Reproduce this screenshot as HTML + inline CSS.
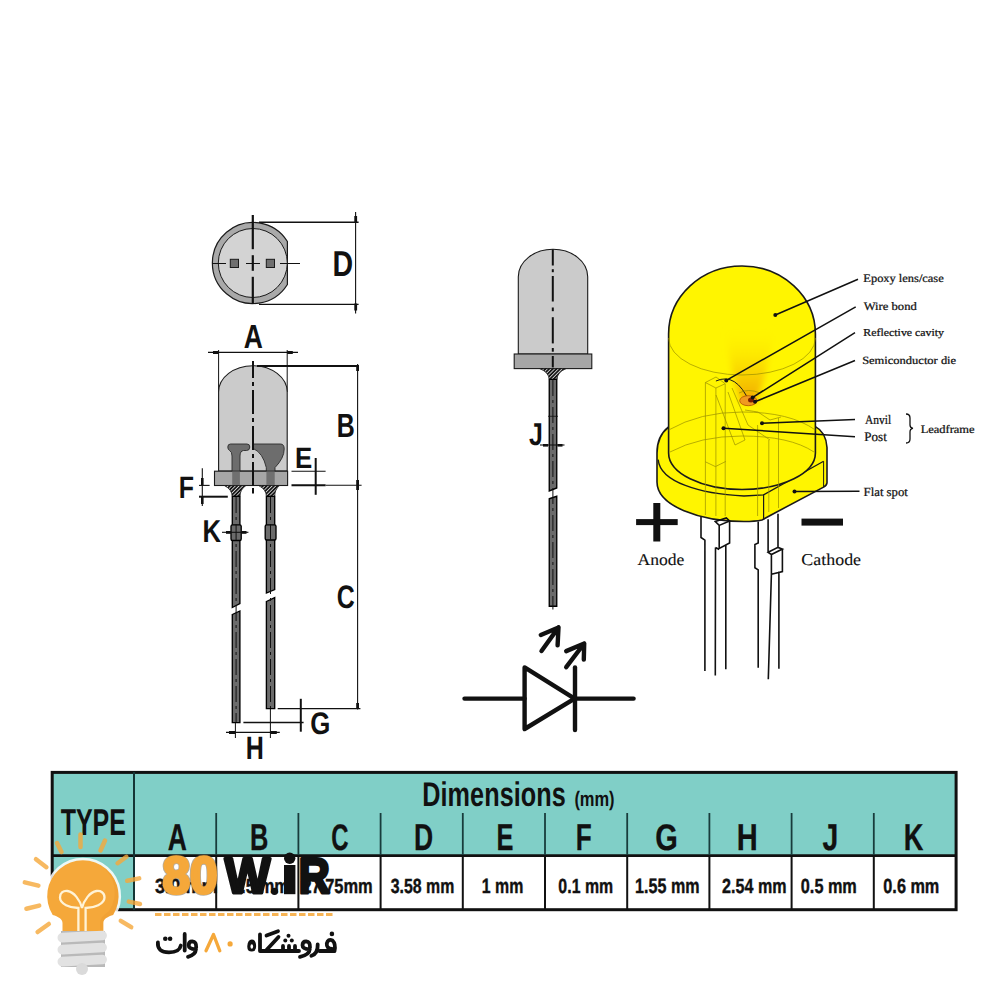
<!DOCTYPE html>
<html><head><meta charset="utf-8"><style>
html,body{margin:0;padding:0;background:#fff;width:1000px;height:1000px;overflow:hidden}
svg{display:block;text-rendering:geometricPrecision}
</style></head><body>
<svg width="1000" height="1000" viewBox="0 0 1000 1000">
<defs>
<pattern id="hatch" width="2.6" height="2.6" patternUnits="userSpaceOnUse" patternTransform="rotate(45)">
<rect width="2.6" height="2.6" fill="#151515"/><rect width="0.75" height="2.6" fill="#f0f0f0"/>
</pattern>
<filter id="blur" x="-50%" y="-50%" width="200%" height="200%"><feGaussianBlur stdDeviation="3"/></filter>
<linearGradient id="glow" x1="0" y1="1" x2="0" y2="0">
<stop offset="0" stop-color="#f0a000" stop-opacity="0.9"/>
<stop offset="0.25" stop-color="#f3b000" stop-opacity="0.7"/>
<stop offset="0.6" stop-color="#f8c800" stop-opacity="0.3"/>
<stop offset="1" stop-color="#fff000" stop-opacity="0"/>
</linearGradient>
</defs>
<rect width="1000" height="1000" fill="#fff"/>

<path d="M287.4 241.5 A40.6 40.6 0 1 0 287.4 284.5 Z" fill="#a9a9a9" stroke="#1a1a1a" stroke-width="1.2"/>
<circle cx="252.8" cy="263" r="34.5" fill="#d3d3d3" stroke="#1a1a1a" stroke-width="1"/>
<rect x="230.3" y="259.3" width="8.2" height="8.2" fill="#6f6f6f" stroke="#1a1a1a" stroke-width="1"/>
<rect x="266.3" y="259.3" width="8.2" height="8.2" fill="#6f6f6f" stroke="#1a1a1a" stroke-width="1"/>
<line x1="252.8" y1="215" x2="252.8" y2="249.2" stroke="#111" stroke-width="2.2" />
<line x1="252.8" y1="255.2" x2="252.8" y2="270.8" stroke="#111" stroke-width="2.2" />
<line x1="252.8" y1="276.8" x2="252.8" y2="304" stroke="#111" stroke-width="2.2" />
<line x1="212" y1="263.5" x2="226" y2="263.5" stroke="#111" stroke-width="1" />
<line x1="246" y1="263.5" x2="260" y2="263.5" stroke="#111" stroke-width="1" />
<line x1="280" y1="263.5" x2="300" y2="263.5" stroke="#111" stroke-width="1" />
<line x1="259" y1="222.2" x2="358.6" y2="222.2" stroke="#111" stroke-width="1.4" />
<line x1="259" y1="304.4" x2="358.6" y2="304.4" stroke="#111" stroke-width="1.4" />
<line x1="355.6" y1="212" x2="355.6" y2="313.4" stroke="#111" stroke-width="1.1" />
<rect x="354.3" y="216" width="2.8" height="7" fill="#111" />
<rect x="354.3" y="303.5" width="2.8" height="7" fill="#111" />
<text transform="translate(332.60,275.90) scale(0.07904,0.10000)" font-family="Liberation Sans" font-weight="bold" font-size="360.87" fill="#111" >D</text>
<line x1="208" y1="352.4" x2="298" y2="352.4" stroke="#111" stroke-width="1.2" />
<line x1="218.6" y1="350" x2="218.6" y2="392" stroke="#111" stroke-width="1" />
<line x1="287.2" y1="350" x2="287.2" y2="392" stroke="#111" stroke-width="1" />
<rect x="213" y="351" width="5.6" height="3" fill="#111" />
<rect x="287.2" y="351" width="5.6" height="3" fill="#111" />
<text transform="translate(243.81,347.90) scale(0.07875,0.10000)" font-family="Liberation Sans" font-weight="bold" font-size="334.78" fill="#111" >A</text>
<path d="M218.6 471 V392 A34.3 26.3 0 0 1 287.2 392 V471 Z" fill="#cbcbcb" stroke="#1a1a1a" stroke-width="1.1"/>
<path d="M230.5 444 H247 Q249.8 444 249.8 447 Q249.8 450.5 246.5 450.5 H243.5 Q240 451 240 456 V485.5 H232 V456 Q232 451.5 229.5 450.5 Q227.8 449.5 227.8 447 Q227.8 444 230.5 444 Z" fill="#6d6d6d" stroke="#2a2a2a" stroke-width="0.9"/>
<path d="M253.3 444 H280.5 Q284.2 444 284.2 449 Q284.2 458 275 467.6 V485.5 H266.3 V467.6 Q263 453 253.3 448.5 Z" fill="#6d6d6d" stroke="#2a2a2a" stroke-width="0.9"/>
<rect x="214.5" y="471.2" width="73.1" height="14.3" fill="#a6a6a6" stroke="#1a1a1a" stroke-width="1.1"/>
<rect x="232.2" y="471.5" width="7.7" height="14" fill="#707070" />
<rect x="266.4" y="471.5" width="8.3" height="14" fill="#707070" />
<line x1="253" y1="361" x2="253" y2="378" stroke="#111" stroke-width="2" />
<line x1="253" y1="382" x2="253" y2="386" stroke="#111" stroke-width="2" />
<line x1="253" y1="390" x2="253" y2="414" stroke="#111" stroke-width="2" />
<line x1="253" y1="418" x2="253" y2="422" stroke="#111" stroke-width="2" />
<line x1="253" y1="426" x2="253" y2="450" stroke="#111" stroke-width="2" />
<line x1="253" y1="454" x2="253" y2="458" stroke="#111" stroke-width="2" />
<line x1="253" y1="462" x2="253" y2="486" stroke="#111" stroke-width="2" />
<line x1="253" y1="488" x2="253" y2="493.5" stroke="#111" stroke-width="2" />
<path d="M224.3 485.5 H246 Q240 489.5 240 496.3 H232.2 Q232 489.5 224.3 485.5 Z" fill="url(#hatch)" stroke="#1a1a1a" stroke-width="0.8"/>
<path d="M258.6 485.5 H279.6 Q274.7 489.5 274.7 496.3 H266.4 Q266.3 489.5 258.6 485.5 Z" fill="url(#hatch)" stroke="#1a1a1a" stroke-width="0.8"/>
<path d="M232.3 496.3 H239.9 V603.5 L232.3 607.5 Z" fill="#6b6b6b" stroke="#000" stroke-width="1.35"/>
<path d="M232.3 614.5 L239.9 611 V722.6 H232.3 Z" fill="#6b6b6b" stroke="#000" stroke-width="1.35"/>
<path d="M266.4 496.3 H274.7 V589.5 L266.4 593 Z" fill="#6b6b6b" stroke="#000" stroke-width="1.35"/>
<path d="M266.4 601.5 L274.7 597.6 V708.6 H266.4 Z" fill="#6b6b6b" stroke="#000" stroke-width="1.35"/>
<rect x="231" y="524.8" width="10.2" height="15.7" rx="1.5" fill="#6b6b6b" stroke="#000" stroke-width="1.35"/>
<rect x="265.2" y="524.8" width="10.8" height="15.2" rx="1.5" fill="#6b6b6b" stroke="#000" stroke-width="1.35"/>
<line x1="236.1" y1="497" x2="236.1" y2="722" stroke="#111" stroke-width="1" stroke-dasharray="16 4 3 4"/>
<line x1="270.5" y1="497" x2="270.5" y2="708" stroke="#111" stroke-width="1" stroke-dasharray="16 4 3 4"/>
<line x1="257" y1="366" x2="358.6" y2="366" stroke="#111" stroke-width="2.2" />
<line x1="357.6" y1="364" x2="357.6" y2="709.5" stroke="#111" stroke-width="1.1" />
<line x1="325.6" y1="485.2" x2="361.6" y2="485.2" stroke="#111" stroke-width="1.1" />
<rect x="356.2" y="365" width="2.8" height="6" fill="#111" />
<rect x="356.2" y="480" width="2.8" height="10" fill="#111" />
<rect x="356.2" y="703" width="2.8" height="6" fill="#111" />
<text transform="translate(336.66,437.20) scale(0.07411,0.10000)" font-family="Liberation Sans" font-weight="bold" font-size="336.23" fill="#111" >B</text>
<text transform="translate(336.80,608.10) scale(0.07618,0.10000)" font-family="Liberation Sans" font-weight="bold" font-size="327.14" fill="#111" >C</text>
<line x1="291.5" y1="471.3" x2="325.6" y2="471.3" stroke="#111" stroke-width="1.1" />
<line x1="291.5" y1="485.2" x2="325.6" y2="485.2" stroke="#111" stroke-width="2" />
<line x1="315.7" y1="458" x2="315.7" y2="494.8" stroke="#111" stroke-width="2" />
<text transform="translate(294.89,467.60) scale(0.08801,0.10000)" font-family="Liberation Sans" font-weight="bold" font-size="294.20" fill="#111" >E</text>
<line x1="202.3" y1="468.3" x2="202.3" y2="506" stroke="#111" stroke-width="1.1" />
<line x1="199" y1="485.4" x2="209.6" y2="485.4" stroke="#111" stroke-width="1.1" />
<line x1="199" y1="496.7" x2="227.8" y2="496.7" stroke="#111" stroke-width="2" />
<rect x="201" y="478" width="2.6" height="7" fill="#111" />
<rect x="201" y="497" width="2.6" height="7" fill="#111" />
<text transform="translate(178.65,497.80) scale(0.08023,0.10000)" font-family="Liberation Sans" font-weight="bold" font-size="311.59" fill="#111" >F</text>
<line x1="222" y1="532.3" x2="248.4" y2="532.3" stroke="#111" stroke-width="1.1" />
<rect x="226" y="531" width="5" height="2.8" fill="#111" />
<rect x="241.5" y="531" width="5" height="2.8" fill="#111" />
<text transform="translate(202.60,541.60) scale(0.08123,0.10000)" font-family="Liberation Sans" font-weight="bold" font-size="317.39" fill="#111" >K</text>
<line x1="277.7" y1="708.6" x2="360.4" y2="708.6" stroke="#111" stroke-width="1.1" />
<line x1="243.4" y1="722.6" x2="303.6" y2="722.6" stroke="#111" stroke-width="1.5" />
<line x1="300.8" y1="698.8" x2="300.8" y2="731.7" stroke="#111" stroke-width="2" />
<text transform="translate(310.27,733.80) scale(0.08264,0.10000)" font-family="Liberation Sans" font-weight="bold" font-size="311.43" fill="#111" >G</text>
<line x1="226" y1="732.4" x2="279.8" y2="732.4" stroke="#111" stroke-width="1.4" />
<line x1="235.4" y1="723" x2="235.4" y2="738" stroke="#111" stroke-width="1" />
<line x1="270.4" y1="709" x2="270.4" y2="738" stroke="#111" stroke-width="1" />
<rect x="229" y="731" width="6.4" height="3" fill="#111" />
<rect x="270.4" y="731" width="6.4" height="3" fill="#111" />
<text transform="translate(245.86,759.00) scale(0.07675,0.10000)" font-family="Liberation Sans" font-weight="bold" font-size="324.64" fill="#111" >H</text>
<path d="M518.3 354 V276.7 A34.7 27.4 0 0 1 587.7 276.7 V354 Z" fill="#cbcbcb" stroke="#1a1a1a" stroke-width="1.1"/>
<rect x="514.2" y="354" width="77.6" height="14.6" fill="#a6a6a6" stroke="#1a1a1a" stroke-width="1.1"/>
<line x1="552.8" y1="249.3" x2="552.8" y2="265.5" stroke="#111" stroke-width="2" />
<line x1="552.8" y1="269.2" x2="552.8" y2="272.2" stroke="#111" stroke-width="2" />
<line x1="552.8" y1="276" x2="552.8" y2="301.5" stroke="#111" stroke-width="2" />
<line x1="552.8" y1="307.5" x2="552.8" y2="311.2" stroke="#111" stroke-width="2" />
<line x1="552.8" y1="317.2" x2="552.8" y2="343.4" stroke="#111" stroke-width="2" />
<line x1="552.8" y1="348" x2="552.8" y2="351.7" stroke="#111" stroke-width="2" />
<line x1="552.8" y1="356" x2="552.8" y2="367.4" stroke="#111" stroke-width="2" />
<path d="M539.7 368.6 H566 Q557 372.5 557 379.4 H549.2 Q549 372.5 539.7 368.6 Z" fill="url(#hatch)" stroke="#1a1a1a" stroke-width="0.8"/>
<path d="M549.25 379.4 H556.75 V488 L549.25 491 Z" fill="#6b6b6b" stroke="#000" stroke-width="1.35"/>
<path d="M549.25 498.75 L556.75 496.25 V606.25 H549.25 Z" fill="#6b6b6b" stroke="#000" stroke-width="1.35"/>
<line x1="552.9" y1="380" x2="552.9" y2="609.5" stroke="#111" stroke-width="1" stroke-dasharray="16 4 3 4"/>
<line x1="540" y1="445" x2="564.5" y2="445" stroke="#111" stroke-width="1.1" />
<rect x="543" y="444" width="5" height="2.6" fill="#111" />
<rect x="557.5" y="444" width="5" height="2.6" fill="#111" />
<line x1="548" y1="416.3" x2="558" y2="416.3" stroke="#111" stroke-width="0.8" />
<text transform="translate(529.00,444.50) scale(0.07841,0.10000)" font-family="Liberation Sans" font-weight="bold" font-size="318.84" fill="#111" >J</text>
<path d="M464.5 698.6 H524.6 M574.8 698.6 H633.6" stroke="#111" stroke-width="4.4" fill="none" stroke-linecap="round" stroke-linejoin="round"/>
<path d="M524.6 667.4 L574.6 698.6 L524.6 729 Z" stroke="#111" stroke-width="4.4" fill="none" stroke-linecap="round" stroke-linejoin="round"/>
<path d="M575 667.4 V730" stroke="#111" stroke-width="4.4" fill="none" stroke-linecap="round" stroke-linejoin="round"/>
<path d="M541.5 651 L558.5 627.4 M540.8 635 L558.5 627.4 L557.6 645.4" stroke="#111" stroke-width="4.4" fill="none" stroke-linecap="round" stroke-linejoin="round"/>
<path d="M566.2 667.2 L584.2 643.5 M566.2 651.1 L584.2 643.5 L583.8 659.6" stroke="#111" stroke-width="4.4" fill="none" stroke-linecap="round" stroke-linejoin="round"/>
<path d="M668.6 427 Q657 436 657 453 V482 C657 506 700 521.5 744 521.5 Q755 521.5 762 520 L769.7 515.7 L823.6 487.1 Q827 485 827 482.7 V447.5 Q826 432 815.4 426.6 Z" fill="#fff500" stroke="#1a1a1a" stroke-width="1.6"/>
<path d="M658.2 459.6 C660 482 700 494 744 496 L763.6 494.8 L823.6 461.3" fill="none" stroke="#1a1a1a" stroke-width="1.3"/>
<line x1="763.6" y1="494.8" x2="763.6" y2="520" stroke="#1a1a1a" stroke-width="1.2" />
<line x1="823.6" y1="461.3" x2="823.6" y2="487" stroke="#1a1a1a" stroke-width="1" />
<path d="M668.6 453 V334 A73.4 68 0 0 1 815.4 334 V453 A73.4 36.5 0 0 1 668.6 453 Z" fill="#fff500" stroke="#1a1a1a" stroke-width="1.6"/>
<path d="M741 402 Q730 372 726 330 Q750 322 774 330 Q768 372 756 402 Z" fill="url(#glow)" filter="url(#blur)"/>
<path d="M668.6 338 A73.4 37 0 0 0 815.4 338" stroke="#9a8f00" stroke-width="0.7" fill="none"/>
<path d="M668.6 430 Q700 412 742 412 Q790 412 815.4 430" stroke="#9a8f00" stroke-width="0.7" fill="none"/>
<path d="M670 452 Q700 436 742 436 Q790 436 814 452" stroke="#9a8f00" stroke-width="0.7" fill="none"/>
<line x1="705.4" y1="382.5" x2="705.4" y2="515" stroke="#9a8f00" stroke-width="0.7" />
<line x1="715.9" y1="388" x2="715.9" y2="516" stroke="#9a8f00" stroke-width="0.7" />
<line x1="725.2" y1="384" x2="725.2" y2="516" stroke="#9a8f00" stroke-width="0.7" />
<path d="M705.4 382.5 L716 377 L725.2 383.7 L715.9 388 Z M705.4 461.8 L715.4 466.6 L725.9 461.4" stroke="#9a8f00" stroke-width="0.7" fill="none"/>
<path d="M716 395 L735 445 L745 440 L728 392 M732 388 L748 425 L770 440 M745 410 L758 412 L770 420 L781 417 M757.6 425 V516 M768.8 440 V512 M778.5 418 V508" stroke="#9a8f00" stroke-width="0.7" fill="none"/>
<path d="M715.9 381 Q736 372 749.4 401.8" fill="none" stroke="#1a1a1a" stroke-width="1"/>
<ellipse cx="748.3" cy="400.7" rx="8.6" ry="5" fill="#f09a20" stroke="#b05000" stroke-width="0.8"/>
<path d="M739 393 Q748 388 760 393" fill="none" stroke="#9a8f00" stroke-width="0.7"/>
<ellipse cx="751" cy="400" rx="3" ry="2.5" fill="#7a2000"/>
<path d="M775.3 315 L858 279.2 M726.3 380.4 L855.7 306.8 M752.7 397.4 L855 332.7 M755 401.8 L855 360.5 M762 423.3 L855 419.5 M723.5 428.2 L855 436.7 M794.5 491.5 L859.5 491.3" stroke="#111" stroke-width="1.5" fill="none"/>
<circle cx="775.3" cy="315" r="2" fill="#111"/>
<circle cx="726.3" cy="380.4" r="2" fill="#111"/>
<circle cx="752.7" cy="397.4" r="2" fill="#111"/>
<circle cx="755" cy="401.8" r="2" fill="#111"/>
<circle cx="762" cy="423.3" r="2" fill="#111"/>
<circle cx="723.5" cy="428.2" r="2" fill="#111"/>
<circle cx="794.5" cy="491.5" r="2" fill="#111"/>
<text transform="translate(863.33,282.20) scale(0.10714,0.10000)" font-family="Liberation Serif" font-weight="normal" font-size="115.94" fill="#111" stroke="#111" stroke-width="2.5">Epoxy lens/case</text>
<text transform="translate(863.70,310.20) scale(0.11006,0.10000)" font-family="Liberation Serif" font-weight="normal" font-size="114.49" fill="#111" stroke="#111" stroke-width="2.5">Wire bond</text>
<text transform="translate(863.34,335.70) scale(0.11073,0.10000)" font-family="Liberation Serif" font-weight="normal" font-size="107.14" fill="#111" stroke="#111" stroke-width="2.5">Reflective cavity</text>
<text transform="translate(862.13,363.70) scale(0.11195,0.10000)" font-family="Liberation Serif" font-weight="normal" font-size="111.59" fill="#111" stroke="#111" stroke-width="2.5">Semiconductor die</text>
<text transform="translate(865.09,424.00) scale(0.08791,0.10000)" font-family="Liberation Serif" font-weight="normal" font-size="130.43" fill="#111" stroke="#111" stroke-width="2.5">Anvil</text>
<text transform="translate(864.31,440.80) scale(0.09884,0.10000)" font-family="Liberation Serif" font-weight="normal" font-size="132.31" fill="#111" stroke="#111" stroke-width="2.5">Post</text>
<text transform="translate(920.63,432.70) scale(0.10891,0.10000)" font-family="Liberation Serif" font-weight="normal" font-size="114.29" fill="#111" stroke="#111" stroke-width="2.5">Leadframe</text>
<text transform="translate(863.62,496.00) scale(0.10216,0.10000)" font-family="Liberation Serif" font-weight="normal" font-size="124.64" fill="#111" stroke="#111" stroke-width="2.5">Flat spot</text>
<path d="M906 414 Q910 414 910 418 V425 Q910 428 913 428.3 Q910 428.6 910 432 V439 Q910 443 906 443" fill="none" stroke="#111" stroke-width="1.3"/>
<rect x="636.1" y="519.1" width="41.6" height="6" fill="#111" />
<rect x="653.3" y="503" width="7" height="38.5" fill="#111" />
<rect x="801.5" y="518.6" width="41.5" height="7" fill="#111" />
<text transform="translate(637.52,564.60) scale(0.10627,0.10000)" font-family="Liberation Serif" font-weight="normal" font-size="165.22" fill="#111" stroke="#111" stroke-width="1">Anode</text>
<text transform="translate(801.28,564.60) scale(0.10861,0.10000)" font-family="Liberation Serif" font-weight="normal" font-size="165.22" fill="#111" stroke="#111" stroke-width="1">Cathode</text>
<path d="M701 517 V537.5 L704.9 540.2 V671 M715.5 547.5 L715.3 675.4 M725.8 545.5 V669.3 M715.3 521.5 L726.3 518 L729.6 521 L719.2 525.4 Z M719.2 525.4 V548.5 L729.6 543 V521 M715.5 547.5 L719.2 549.5" stroke="#111" stroke-width="1.6" fill="none"/>
<path d="M758.2 521.5 V543 L754.9 544.5 V567.7 L758.2 569.9 V667.7 M768.1 519.3 V552.3 M778 513.8 V547.4 M768.1 552.3 L778 547.4 L782.4 549 L771.4 554.5 Z M771.4 554.5 V574.3 L782.4 571.6 V549 M771.4 574.3 L768.3 679.2 M778.9 571.6 V668.8" stroke="#111" stroke-width="1.6" fill="none"/>
<rect x="52" y="772" width="904" height="138" fill="#fff" />
<rect x="52" y="772" width="904" height="83" fill="#80cfc7" />
<rect x="52" y="855" width="82" height="54" fill="#80cfc7" />
<rect x="52.2" y="772.4" width="903.9" height="137.3" fill="none" stroke="#111" stroke-width="3"/>
<line x1="52" y1="855.6" x2="956" y2="855.6" stroke="#111" stroke-width="2.8" />
<line x1="134" y1="772" x2="134" y2="910" stroke="#153535" stroke-width="2" />
<line x1="216.2" y1="813" x2="216.2" y2="855" stroke="#183c3c" stroke-width="1.8" />
<line x1="216.2" y1="855" x2="216.2" y2="910" stroke="#111" stroke-width="2" />
<line x1="298.4" y1="813" x2="298.4" y2="855" stroke="#183c3c" stroke-width="1.8" />
<line x1="298.4" y1="855" x2="298.4" y2="910" stroke="#111" stroke-width="2" />
<line x1="380.6" y1="813" x2="380.6" y2="855" stroke="#183c3c" stroke-width="1.8" />
<line x1="380.6" y1="855" x2="380.6" y2="910" stroke="#111" stroke-width="2" />
<line x1="462.8" y1="813" x2="462.8" y2="855" stroke="#183c3c" stroke-width="1.8" />
<line x1="462.8" y1="855" x2="462.8" y2="910" stroke="#111" stroke-width="2" />
<line x1="545.0" y1="813" x2="545.0" y2="855" stroke="#183c3c" stroke-width="1.8" />
<line x1="545.0" y1="855" x2="545.0" y2="910" stroke="#111" stroke-width="2" />
<line x1="627.2" y1="813" x2="627.2" y2="855" stroke="#183c3c" stroke-width="1.8" />
<line x1="627.2" y1="855" x2="627.2" y2="910" stroke="#111" stroke-width="2" />
<line x1="709.4" y1="813" x2="709.4" y2="855" stroke="#183c3c" stroke-width="1.8" />
<line x1="709.4" y1="855" x2="709.4" y2="910" stroke="#111" stroke-width="2" />
<line x1="791.6" y1="813" x2="791.6" y2="855" stroke="#183c3c" stroke-width="1.8" />
<line x1="791.6" y1="855" x2="791.6" y2="910" stroke="#111" stroke-width="2" />
<line x1="873.8000000000001" y1="813" x2="873.8000000000001" y2="855" stroke="#183c3c" stroke-width="1.8" />
<line x1="873.8000000000001" y1="855" x2="873.8000000000001" y2="910" stroke="#111" stroke-width="2" />
<text transform="translate(60.75,835.00) scale(0.06609,0.10000)" font-family="Liberation Sans" font-weight="bold" font-size="376.81" fill="#111" >TYPE</text>
<text transform="translate(422.23,806.00) scale(0.07354,0.10000)" font-family="Liberation Sans" font-weight="bold" font-size="344.44" fill="#111" >Dimensions</text>
<text transform="translate(574.38,806.00) scale(0.07773,0.10000)" font-family="Liberation Sans" font-weight="bold" font-size="211.11" fill="#111" >(mm)</text>
<text transform="translate(167.71,850.10) scale(0.06997,0.10000)" font-family="Liberation Sans" font-weight="bold" font-size="376.81" fill="#111" stroke="#111" stroke-width="3">A</text>
<text transform="translate(249.91,850.10) scale(0.06787,0.10000)" font-family="Liberation Sans" font-weight="bold" font-size="376.81" fill="#111" stroke="#111" stroke-width="3">B</text>
<text transform="translate(331.34,850.10) scale(0.06462,0.10000)" font-family="Liberation Sans" font-weight="bold" font-size="371.43" fill="#111" stroke="#111" stroke-width="3">C</text>
<text transform="translate(414.05,850.10) scale(0.07004,0.10000)" font-family="Liberation Sans" font-weight="bold" font-size="376.81" fill="#111" stroke="#111" stroke-width="3">D</text>
<text transform="translate(496.51,850.10) scale(0.06777,0.10000)" font-family="Liberation Sans" font-weight="bold" font-size="376.81" fill="#111" stroke="#111" stroke-width="3">E</text>
<text transform="translate(575.78,850.10) scale(0.06900,0.10000)" font-family="Liberation Sans" font-weight="bold" font-size="376.81" fill="#111" stroke="#111" stroke-width="3">F</text>
<text transform="translate(655.24,850.10) scale(0.07839,0.10000)" font-family="Liberation Sans" font-weight="bold" font-size="371.43" fill="#111" stroke="#111" stroke-width="3">G</text>
<text transform="translate(736.87,850.10) scale(0.07692,0.10000)" font-family="Liberation Sans" font-weight="bold" font-size="376.81" fill="#111" stroke="#111" stroke-width="3">H</text>
<text transform="translate(822.43,850.10) scale(0.07510,0.10000)" font-family="Liberation Sans" font-weight="bold" font-size="376.81" fill="#111" stroke="#111" stroke-width="3">J</text>
<text transform="translate(903.70,850.10) scale(0.07215,0.10000)" font-family="Liberation Sans" font-weight="bold" font-size="376.81" fill="#111" stroke="#111" stroke-width="3">K</text>
<text transform="translate(154.93,892.70) scale(0.08874,0.10000)" font-family="Liberation Sans" font-weight="bold" font-size="205.71" fill="#111" stroke="#111" stroke-width="4">3.0 mm</text>
<text transform="translate(231.90,892.70) scale(0.08063,0.10000)" font-family="Liberation Sans" font-weight="bold" font-size="205.71" fill="#111" stroke="#111" stroke-width="4">8.5 mm</text>
<text transform="translate(302.41,892.70) scale(0.07979,0.10000)" font-family="Liberation Sans" font-weight="bold" font-size="205.71" fill="#111" stroke="#111" stroke-width="4">27.75mm</text>
<text transform="translate(390.68,892.70) scale(0.07736,0.10000)" font-family="Liberation Sans" font-weight="bold" font-size="205.71" fill="#111" stroke="#111" stroke-width="4">3.58 mm</text>
<text transform="translate(481.85,892.70) scale(0.07609,0.10000)" font-family="Liberation Sans" font-weight="bold" font-size="208.70" fill="#111" stroke="#111" stroke-width="4">1 mm</text>
<text transform="translate(558.36,892.70) scale(0.07740,0.10000)" font-family="Liberation Sans" font-weight="bold" font-size="205.71" fill="#111" stroke="#111" stroke-width="4">0.1 mm</text>
<text transform="translate(635.03,892.70) scale(0.07740,0.10000)" font-family="Liberation Sans" font-weight="bold" font-size="208.70" fill="#111" stroke="#111" stroke-width="4">1.55 mm</text>
<text transform="translate(722.02,892.70) scale(0.07854,0.10000)" font-family="Liberation Sans" font-weight="bold" font-size="205.71" fill="#111" stroke="#111" stroke-width="4">2.54 mm</text>
<text transform="translate(800.85,892.70) scale(0.07885,0.10000)" font-family="Liberation Sans" font-weight="bold" font-size="205.71" fill="#111" stroke="#111" stroke-width="4">0.5 mm</text>
<text transform="translate(883.35,892.70) scale(0.07885,0.10000)" font-family="Liberation Sans" font-weight="bold" font-size="205.71" fill="#111" stroke="#111" stroke-width="4">0.6 mm</text>
<line x1="36" y1="859.2" x2="46.4" y2="867.2" stroke="#f5a83a" stroke-opacity="0.8" stroke-width="4.5" stroke-linecap="round"/>
<line x1="24.8" y1="882.4" x2="38.4" y2="885.6" stroke="#f5a83a" stroke-opacity="0.8" stroke-width="4.5" stroke-linecap="round"/>
<line x1="26.4" y1="908.8" x2="39.2" y2="905.6" stroke="#f5a83a" stroke-opacity="0.8" stroke-width="4.5" stroke-linecap="round"/>
<line x1="37.6" y1="932" x2="48.8" y2="924" stroke="#f5a83a" stroke-opacity="0.8" stroke-width="4.5" stroke-linecap="round"/>
<line x1="120.8" y1="920.8" x2="131.2" y2="927.2" stroke="#f5a83a" stroke-opacity="0.8" stroke-width="4.5" stroke-linecap="round"/>
<line x1="128.8" y1="901.6" x2="140" y2="904" stroke="#f5a83a" stroke-opacity="0.8" stroke-width="4.5" stroke-linecap="round"/>
<line x1="127.2" y1="880.8" x2="139.2" y2="878.4" stroke="#f5a83a" stroke-opacity="0.8" stroke-width="4.5" stroke-linecap="round"/>
<line x1="117.6" y1="863.2" x2="126.4" y2="856.8" stroke="#f5a83a" stroke-opacity="0.8" stroke-width="4.5" stroke-linecap="round"/>
<line x1="57" y1="843" x2="61.5" y2="852" stroke="#f5a83a" stroke-opacity="0.8" stroke-width="4.5" stroke-linecap="round"/>
<line x1="80.5" y1="834.5" x2="80.5" y2="847" stroke="#f5a83a" stroke-opacity="0.8" stroke-width="4.5" stroke-linecap="round"/>
<line x1="105" y1="840.5" x2="100.5" y2="850.5" stroke="#f5a83a" stroke-opacity="0.8" stroke-width="4.5" stroke-linecap="round"/>
<path d="M62.5 932.5 V923 C62.5 919 58 916.5 52.7 915 A35.7 35.7 0 1 1 113.1 915 C107.8 916.5 103.3 919 103.3 923 V932.5 Z" fill="#fff" stroke="#fff" stroke-opacity="0.85" stroke-width="5" stroke-linejoin="round"/>
<path d="M62.5 932.5 V923 C62.5 919 58 916.5 52.7 915 A35.7 35.7 0 1 1 113.1 915 C107.8 916.5 103.3 919 103.3 923 V932.5 Z" fill="#f5a83a"/>
<path d="M100 864.8 A35.7 35.7 0 0 1 113.1 915 C107.8 916.5 103.3 919 103.3 923 V932 H100 V923 C100 918 105 914 109 911 A33 33 0 0 0 100 864.8 Z" fill="#e8952a" fill-opacity="0.3"/>
<path d="M78.4 932 V908 C70 908 60 904 60 897.5 C60 892.5 63.5 890.5 67.5 891 C74 892 80 900 82 908 C84 900 90 892 96.5 891 C100.5 890.5 104.5 892.5 104.5 897.5 C104.5 904 94 908 85.6 908 V932" fill="none" stroke="#fff3d6" stroke-width="2.3"/>
<rect x="61" y="931" width="44" height="36" fill="#b9b9b9"/>
<rect x="57.5" y="931.8" width="49.5" height="9.6" rx="4.8" fill="#e2e2e2" transform="rotate(-3 82 936.8)"/>
<rect x="57.5" y="943.8" width="49.5" height="9.6" rx="4.8" fill="#e2e2e2" transform="rotate(-3 82 948.8)"/>
<rect x="57.5" y="955.8" width="49.5" height="9.6" rx="4.8" fill="#e2e2e2" transform="rotate(-3 82 960.8)"/>
<circle cx="82" cy="969" r="6" fill="#dadada"/>
<text transform="translate(162.4,893.3) scale(0.956,1)" font-family="Liberation Sans" font-weight="bold" font-size="51.9" fill="#f5a83a" stroke="#6a5a40" stroke-opacity="0.5" stroke-width="4.6" stroke-linejoin="round">80</text>
<text transform="translate(162.4,893.3) scale(0.956,1)" font-family="Liberation Sans" font-weight="bold" font-size="51.9" fill="#f5a83a" stroke="#f5a83a" stroke-width="3" stroke-linejoin="round">80</text>
<text transform="translate(224.7,892.5) scale(0.964,1)" font-family="Liberation Sans" font-weight="bold" font-size="50.1" fill="#111" stroke="#111" stroke-width="3" stroke-linejoin="round">W</text>
<circle cx="274.5" cy="891.3" r="3.6" fill="#111"/>
<rect x="284" y="865" width="11.4" height="29.2" fill="#111"/>
<circle cx="289.7" cy="858.3" r="5.7" fill="#111"/>
<text transform="translate(298.6,892.5) scale(0.867,1)" font-family="Liberation Sans" font-weight="bold" font-size="50.1" fill="#111" stroke="#111" stroke-width="3" stroke-linejoin="round">R</text>
<line x1="155" y1="914.5" x2="335" y2="914.5" stroke="#f7b455" stroke-width="3" stroke-dasharray="6.5 2.5"/>
<path d="M157.9 942.5 Q157 952.3 169 952.3 Q179.5 952.3 180.8 945.5" stroke="#111" stroke-width="3.8" fill="none" stroke-linecap="round" stroke-linejoin="round"/>
<circle cx="165.3" cy="938.8" r="2.3" fill="#111"/><circle cx="170.1" cy="938.8" r="2.3" fill="#111"/>
<path d="M184.7 934 V950.5" stroke="#111" stroke-width="3.8" fill="none" stroke-linecap="round" stroke-linejoin="round"/>
<path d="M196.2 947.5 Q196.5 941.5 192.3 941.3 Q188.7 941.3 188.7 945.3 Q188.7 949.2 196 949.2 Q195.5 955 188 956.8" stroke="#111" stroke-width="3.8" fill="none" stroke-linecap="round" stroke-linejoin="round"/>
<path d="M206 950.8 L213.5 934.5 L219.8 950.8" stroke="#f5a83a" stroke-width="3.3" fill="none" stroke-linecap="round" stroke-linejoin="round"/>
<circle cx="230.1" cy="943.9" r="2.6" fill="#f5a83a"/>
<path d="M251.8 951.5 Q247 951.5 247.3 946 Q247.7 939.8 251.8 939.6 Q256 939.8 256.1 946 Q256.3 951.5 251.8 951.5 Z" fill="#111"/>
<ellipse cx="251.8" cy="946.5" rx="1.3" ry="2.3" fill="#fff"/>
<path d="M260 934.5 V951 H299 M266.5 950 L278.5 937 M266.5 935.5 L278 931.2 M283 951 V946 M289 951 V946 M295 951 V946" stroke="#111" stroke-width="3.8" fill="none" stroke-linecap="round" stroke-linejoin="round"/>
<circle cx="288.5" cy="935.8" r="2" fill="#111"/><circle cx="285.3" cy="940.5" r="2" fill="#111"/><circle cx="291.8" cy="940.5" r="2" fill="#111"/>
<path d="M310 947.5 Q310.3 941.5 306.2 941.3 Q302.5 941.3 302.5 945.3 Q302.5 949.2 309.8 949.2 Q309.3 955 300 956.8" stroke="#111" stroke-width="3.8" fill="none" stroke-linecap="round" stroke-linejoin="round"/>
<path d="M317.7 944.5 Q318 953.5 311.4 955.8" stroke="#111" stroke-width="3.8" fill="none" stroke-linecap="round" stroke-linejoin="round"/>
<path d="M319.5 951 H334.5 Q336 944 332.5 940.5 Q328 938.5 326.8 943.5 Q326.3 948.5 332 949" stroke="#111" stroke-width="3.8" fill="none" stroke-linecap="round" stroke-linejoin="round"/>
<circle cx="331.9" cy="933.9" r="2.3" fill="#111"/>
</svg></body></html>
